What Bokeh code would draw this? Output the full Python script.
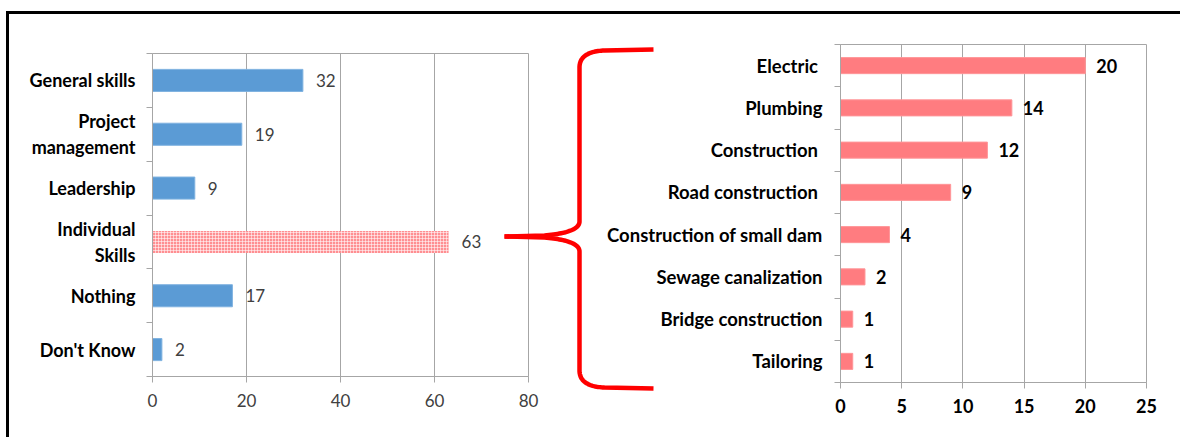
from bokeh.plotting import figure
from bokeh.models import Range1d, FixedTicker, ColumnDataSource
from bokeh.layouts import row
from bokeh.embed import file_html
from bokeh.resources import INLINE
from bokeh.core.properties import value
import numpy as np

# ---------------- data ----------------
left_categories = ["General skills", "Project\nmanagement", "Leadership",
                   "Individual\nSkills", "Nothing", "Don't Know"]
left_values = [32, 19, 9, 63, 17, 2]
left_highlight = [False, False, False, True, False, False]
left_ticks = [0, 20, 40, 60, 80]

right_categories = ["Electric ", "Plumbing", "Construction ", "Road construction ",
                    "Construction of small dam", "Sewage canalization",
                    "Bridge construction", "Tailoring"]
right_values = [20, 14, 12, 9, 4, 2, 1, 1]
right_ticks = [0, 5, 10, 15, 20, 25]

FONT = "Lato"
GRID = "#A6A6A6"
BLUE = "#5B9BD5"
PINK = "#FF7C80"

# ---------------- left chart ----------------
n1 = len(left_categories)
p1 = figure(width=530, height=423, x_range=Range1d(0, left_ticks[-1]),
            y_range=Range1d(n1 - 0.5, -0.5), output_backend="svg",
            toolbar_location=None, min_border_left=143, min_border_right=11,
            min_border_top=39, min_border_bottom=61, frame_align=False)
p1.border_fill_color = "white"
p1.outline_line_color = GRID
p1.xgrid.grid_line_color = GRID
p1.ygrid.visible = False

idx1 = list(range(n1))
plain = ColumnDataSource(dict(
    y=[i for i in idx1 if not left_highlight[i]],
    v=[left_values[i] for i in idx1 if not left_highlight[i]]))
hi = ColumnDataSource(dict(
    y=[i for i in idx1 if left_highlight[i]],
    v=[left_values[i] for i in idx1 if left_highlight[i]]))
p1.hbar(y="y", left=0, right="v", height=0.41, source=plain,
        fill_color=BLUE, line_color="#7FB2E0", line_width=1)
p1.hbar(y="y", left=0, right="v", height=0.41, source=hi,
        fill_color="#FF8F92", line_color=None,
        hatch_pattern="+", hatch_color="white", hatch_scale=3,
        hatch_weight=1, hatch_alpha=0.55)
lab1 = ColumnDataSource(dict(y=idx1, v=left_values, t=[str(v) for v in left_values]))
p1.text(x="v", y="y", text="t", source=lab1, x_offset=13, text_baseline="middle",
        text_font=value(FONT), text_font_size="17px", text_color="#404040")

xa = p1.xaxis[0]
xa.ticker = FixedTicker(ticks=left_ticks)
xa.axis_line_color = GRID
xa.major_tick_line_color = GRID
xa.major_tick_out = 6
xa.major_tick_in = 0
xa.minor_tick_line_color = None
xa.major_label_text_font = FONT
xa.major_label_text_font_size = "17px"
xa.major_label_text_color = "#404040"
xa.major_label_standoff = 11

ya = p1.yaxis[0]
ya.ticker = FixedTicker(ticks=idx1, minor_ticks=[i - 0.5 for i in range(n1 + 1)])
ya.major_label_overrides = {i: c for i, c in enumerate(left_categories)}
ya.axis_line_color = GRID
ya.major_tick_line_color = None
ya.minor_tick_line_color = GRID
ya.minor_tick_out = 6
ya.minor_tick_in = 0
ya.major_label_text_font = FONT
ya.major_label_text_font_style = "bold"
ya.major_label_text_font_size = "18px"
ya.major_label_text_color = "black"
ya.major_label_standoff = 11

# ---------------- brace ----------------
pb = figure(width=170, height=423, x_range=Range1d(500, 670), y_range=Range1d(438, 15),
            output_backend="svg", toolbar_location=None,
            x_axis_location=None, y_axis_location=None,
            min_border_left=0, min_border_right=0, min_border_top=0, min_border_bottom=0,
            margin=(0, 0, 0, -40), frame_align=False,
            styles={"position": "relative", "z-index": "10"})
pb.grid.visible = False
pb.outline_line_color = None
pb.background_fill_alpha = 0
pb.border_fill_alpha = 0


def quad(p0, c, p2, n=30):
    t = np.linspace(0, 1, n)[:, None]
    p0, c, p2 = np.array(p0), np.array(c), np.array(p2)
    return (1 - t) ** 2 * p0 + 2 * (1 - t) * t * c + t ** 2 * p2


tip_x, tip_y, bx, top_y, bot_y, end_x = 505, 237, 580, 50, 389, 654
up = np.vstack([[[tip_x, tip_y]], [[545, tip_y - 1]],
                quad((545, tip_y - 1), (bx, tip_y - 4), (bx, tip_y - 15)),
                quad((bx, top_y + 18), (bx, top_y + 2), (605, top_y + 1)),
                [[end_x, top_y]]])
down = np.vstack([[[tip_x, tip_y]], [[545, tip_y + 1]],
                  quad((545, tip_y + 1), (bx, tip_y + 4), (bx, tip_y + 15)),
                  quad((bx, bot_y - 18), (bx, bot_y - 2), (605, bot_y - 1)),
                  [[end_x, bot_y]]])
pb.multi_line(xs=[list(up[:, 0]), list(down[:, 0])], ys=[list(up[:, 1]), list(down[:, 1])],
              line_color="#FF0000", line_width=4.5, line_join="round")

# ---------------- right chart ----------------
n2 = len(right_categories)
idx2 = list(range(n2))
p2 = figure(width=581, height=423, x_range=Range1d(0, right_ticks[-1]),
            y_range=Range1d(n2 - 0.5, -0.5), output_backend="svg",
            toolbar_location=None, min_border_left=241, min_border_right=34,
            min_border_top=30, min_border_bottom=55, margin=(0, 0, 0, -70),
            frame_align=False)
p2.border_fill_color = "white"
p2.outline_line_color = GRID
p2.xgrid.grid_line_color = GRID
p2.ygrid.visible = False
src2 = ColumnDataSource(dict(y=idx2, v=right_values, t=[str(v) for v in right_values]))
p2.hbar(y="y", left=0, right="v", height=0.38, source=src2,
        fill_color=PINK, line_color="#FF9598", line_width=1)
p2.text(x="v", y="y", text="t", source=src2, x_offset=11, text_baseline="middle",
        text_font=value(FONT), text_font_style="bold", text_font_size="18px",
        text_color="black")

xa2 = p2.xaxis[0]
xa2.ticker = FixedTicker(ticks=right_ticks)
xa2.axis_line_color = GRID
xa2.major_tick_line_color = GRID
xa2.major_tick_out = 6
xa2.major_tick_in = 0
xa2.minor_tick_line_color = None
xa2.major_label_text_font = FONT
xa2.major_label_text_font_style = "bold"
xa2.major_label_text_font_size = "18px"
xa2.major_label_text_color = "black"
xa2.major_label_standoff = 10

ya2 = p2.yaxis[0]
ya2.ticker = FixedTicker(ticks=idx2, minor_ticks=[i - 0.5 for i in range(n2 + 1)])
ya2.major_label_overrides = {i: c for i, c in enumerate(right_categories)}
ya2.axis_line_color = GRID
ya2.major_tick_line_color = None
ya2.minor_tick_line_color = GRID
ya2.minor_tick_out = 6
ya2.minor_tick_in = 0
ya2.major_label_text_font = FONT
ya2.major_label_text_font_style = "bold"
ya2.major_label_text_font_size = "18.5px"
ya2.major_label_text_color = "black"
ya2.major_label_standoff = 12

layout = row(p1, pb, p2, margin=(11, 0, 0, 6),
             styles={"border-top": "3px solid black", "border-left": "3px solid black"})

open("out.html", "w").write(file_html(layout, INLINE))
